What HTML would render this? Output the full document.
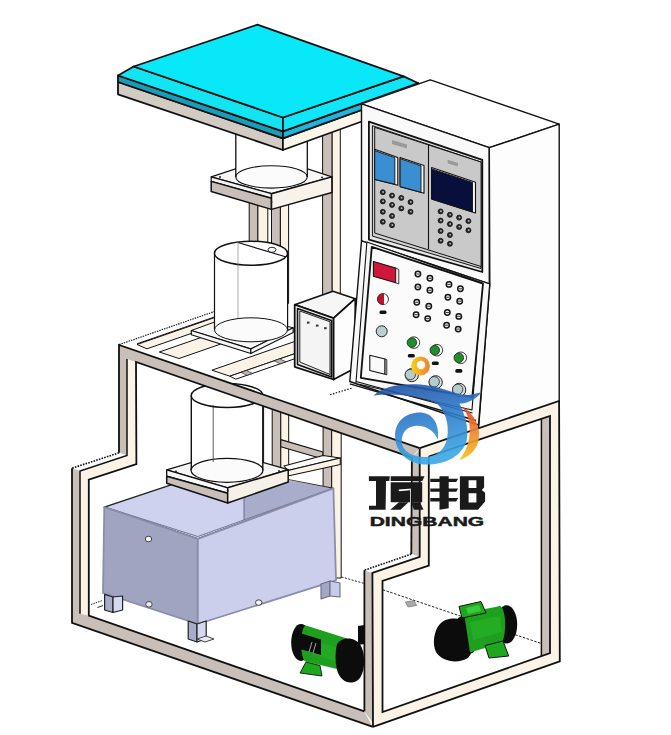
<!DOCTYPE html>
<html><head><meta charset="utf-8"><style>
html,body{margin:0;padding:0;background:#fff;width:671px;height:735px;overflow:hidden}
svg{display:block}
</style></head><body>
<svg width="671" height="735" viewBox="0 0 671 735" stroke-linejoin="round">
<polygon points="322.6,120 332.2,120 332.2,300 322.6,300" fill="#c8c0b8" stroke="#111" stroke-width="1" />
<polygon points="332.2,120 340.3,120 340.3,300 332.2,300" fill="#fbf3e6" stroke="#111" stroke-width="1" />
<polygon points="249.2,190 257.9,190 257.9,320 249.2,320" fill="#c8c0b8" stroke="#111" stroke-width="1" />
<polygon points="257.9,190 267.8,190 267.8,320 257.9,320" fill="#fbf3e6" stroke="#111" stroke-width="1" />
<polygon points="271.5,190 280.4,190 280.4,320 271.5,320" fill="#c8c0b8" stroke="#111" stroke-width="1" />
<polygon points="280.4,190 288.6,190 288.6,320 280.4,320" fill="#fbf3e6" stroke="#111" stroke-width="1" />
<g stroke="#111" stroke-width="1">
<polygon points="119,344.5 215,317.5 362,290 417,447" fill="#fff" stroke="none" stroke-width="0" />
</g>
<line x1="119.1" y1="344.6" x2="262" y2="295" stroke="#111" stroke-width="1.1" stroke-dasharray="1.5,1"/>
<line x1="137" y1="343.8" x2="262" y2="300.5" stroke="#111" stroke-width="1" />
<polygon points="137,344.5 147,348.8 242,315.83500000000004 232,311.535" fill="#fbf3e6" stroke="#111" stroke-width="1" />
<polygon points="159.3,352 179,358.5 274,325.535 254.3,319.035" fill="#fbf3e6" stroke="#111" stroke-width="1" />
<polygon points="211.9,370.2 229.8,376.2 329.8,341.5 311.9,335.5" fill="#fbf3e6" stroke="#111" stroke-width="1" />
<polygon points="229.8,376.2 235.8,379.2 335.8,344.5 329.8,341.5" fill="#fafafa" stroke="#111" stroke-width="1" />
<polygon points="240.91111111111113,372.34444444444443 246.46666666666667,370.41666666666663 252.46666666666667,373.41666666666663 246.91111111111113,375.34444444444443" fill="#bdb6ae" stroke="#111" stroke-width="0.6" />
<polygon points="274.24444444444447,360.77777777777777 279.8,358.84999999999997 285.8,361.84999999999997 280.24444444444447,363.77777777777777" fill="#bdb6ae" stroke="#111" stroke-width="0.6" />
<polygon points="307.5777777777778,349.2111111111111 313.1333333333333,347.2833333333333 319.1333333333333,350.2833333333333 313.5777777777778,352.2111111111111" fill="#bdb6ae" stroke="#111" stroke-width="0.6" />
<polygon points="191.3,330.5 233.8,315 293.2,327.7 250.8,348.9" fill="#f7f7f7" stroke="#111" stroke-width="1" />
<polygon points="191.3,330.5 250.8,348.9 250.8,353.5 191.3,334.8" fill="#f6f6f6" stroke="#111" stroke-width="1.2" />
<polygon points="250.8,348.9 293.2,327.7 293.2,332.5 250.8,353.5" fill="#f8f8f8" stroke="#111" stroke-width="1.2" />
<path d="M214.5,253.3 L214.5,329.8 A36.5,12 0 0 0 287.6,329.8 L287.6,253.3 Z" fill="#fff" stroke="none"/>
<ellipse cx="251" cy="329.8" rx="36.5" ry="12" fill="#fbfbfb" stroke="#111" stroke-width="1"/>
<path d="M214.5,253.3 L214.5,329.8 M287.6,253.3 L287.6,329.8" stroke="#111" stroke-width="1.2"/>
<ellipse cx="251" cy="253.3" rx="36.5" ry="12" fill="#fff" stroke="#111" stroke-width="1.5"/>
<line x1="238" y1="242.5" x2="286.2" y2="257" stroke="#111" stroke-width="1.1" />
<line x1="238" y1="242.5" x2="238" y2="318" stroke="#777" stroke-width="0.6" />
<ellipse cx="272" cy="249.8" rx="4" ry="2.5" fill="#fff" stroke="#111" stroke-width="0.9"/>
<polygon points="211.2,176.9 271.5,157 331.9,176.9 271.5,193.7" fill="#f7f7f7" stroke="#111" stroke-width="1.2" />
<path d="M235.8,120 L235.8,176.9 A35.7,11.2 0 0 0 307.3,176.9 L307.3,120 Z" fill="#fff" stroke="none"/>
<ellipse cx="271.5" cy="176.9" rx="35.7" ry="11.2" fill="#fbfbfb" stroke="#111" stroke-width="1.1"/>
<path d="M235.8,120 L235.8,176.9 M307.3,120 L307.3,176.9" stroke="#111" stroke-width="1.3"/>
<polygon points="211.2,176.9 271.5,193.7 271.5,198.3 211.2,181.4" fill="#f2f2f2" stroke="#111" stroke-width="1.2" />
<polygon points="211.2,181.4 271.5,198.3 271.5,209.4 211.2,191.5" fill="#c8c0b8" stroke="#111" stroke-width="1.5" />
<polygon points="271.5,193.7 331.9,176.9 331.9,192.5 271.5,209.4" fill="#f8f3ea" stroke="#111" stroke-width="1.5" />
<circle cx="220" cy="177" r="1" fill="#222"/>
<circle cx="271.5" cy="202" r="1" fill="#222"/>
<circle cx="322" cy="177.5" r="1" fill="#222"/>
<polygon points="118,82 282.9,138.3 282.9,150 118,94.3" fill="#d2cbc3" stroke="#111" stroke-width="1.8" />
<polygon points="282.9,138.3 418.4,89.5 418.4,101 282.9,150" fill="#fbf4e9" stroke="#111" stroke-width="1.8" />
<polygon points="118,75.5 282.9,131.4 282.9,138.3 118,82" fill="#1a9cb8" stroke="#111" stroke-width="1.8" />
<polygon points="282.9,131.4 418.4,83.2 418.4,89.5 282.9,138.3" fill="#1fb6de" stroke="#111" stroke-width="1.8" />
<polygon points="118,75.5 133.7,66.5 282.9,117.5 282.9,131.4" fill="#12e4f2" stroke="#111" stroke-width="1.8" />
<polygon points="282.9,117.5 403.6,76.4 418.4,83.2 282.9,131.4" fill="#10e6f8" stroke="#111" stroke-width="1.8" />
<polygon points="133.7,66.5 257.4,24.7 403.6,76.4 282.9,117.5" fill="#08e8f8" stroke="#111" stroke-width="1.8" />
<polygon points="294.7,304.7 332.9,291.2 355.3,298.7 333.6,318.2" fill="#f6f6f6" stroke="#111" stroke-width="1.6" />
<polygon points="294.7,304.7 333.6,318.2 333.6,379.5 294.7,366.8" fill="#f8f8f8" stroke="#111" stroke-width="1.8" />
<polygon points="333.6,318.2 355.3,298.7 355.3,368 333.6,379.5" fill="#fdfdfd" stroke="#111" stroke-width="1.8" />
<polygon points="297.5,308.5 331.5,320.5 331.5,377 297.5,364.5" fill="#e8e8e8" stroke="#111" stroke-width="1.6" />
<polygon points="299.8,311 330,321.8 330,374.5 299.8,362" fill="#f4f4f4" stroke="#111" stroke-width="0.9" />
<rect x="306.9" y="321.6" width="2.6" height="2" fill="#333"/>
<rect x="315.9" y="324.6" width="2.6" height="2" fill="#333"/>
<rect x="324.09999999999997" y="327.2" width="2.6" height="2" fill="#333"/>
<polygon points="361.5,103.8 430.3,79.8 559.2,124.1 489.3,147.7" fill="#ffffff" stroke="#111" stroke-width="1.4" />
<polygon points="361.5,103.8 489.3,147.7 489.3,284 361.5,240.8" fill="#f9f9f9" stroke="#111" stroke-width="1.4" />
<polygon points="489.3,147.7 559.2,124.1 559.2,402.6 478.5,429 489.8,283.8" fill="#fdfdfd" stroke="#111" stroke-width="1.4" />
<polygon points="368.9,121.6 482.3,159.8 482.3,272 368.9,239.6" fill="#e6e6e6" stroke="#111" stroke-width="1.8" />
<polygon points="372.4,125.7 481,162 481,268.5 372.4,236.1" fill="#d0d0d0" stroke="#111" stroke-width="1.0" />
<polygon points="374.7,127.4 481.1,162.1 481.1,266.5 374.7,233" fill="#c9c9c9" stroke="#111" stroke-width="1.0" />
<line x1="428.5" y1="144.9" x2="428.5" y2="249.1" stroke="#111" stroke-width="1.1" />
<polygon points="392,140 407,144.5 407,148.5 392,144" fill="#9a9a9a" stroke="none" stroke-width="0" />
<polygon points="447.6,159.8 458,163 458,166.5 447.6,163.3" fill="#9a9a9a" stroke="none" stroke-width="0" />
<polygon points="374.7,149.3 397.8,157.4 397.8,185.2 374.7,179.4" fill="#f4f4f4" stroke="#111" stroke-width="1.1" />
<polygon points="374.7,150.60000000000002 394.8,157.64805194805197 394.8,184.14805194805194 374.7,179.4" fill="#3a8fd2" stroke="#111" stroke-width="0.9" />
<polygon points="400.1,157.4 424,165.5 424,193.3 400.1,186.6" fill="#f4f4f4" stroke="#111" stroke-width="1.1" />
<polygon points="400.1,158.70000000000002 421,165.78326359832636 421,192.28326359832636 400.1,186.6" fill="#3a8fd2" stroke="#111" stroke-width="0.9" />
<polygon points="431.6,167.6 475.5,182.2 475.5,213 431.6,199.1" fill="#f4f4f4" stroke="#111" stroke-width="1.1" />
<polygon points="431.6,168.9 472.5,182.50227790432803 472.5,212.00227790432803 431.6,199.1" fill="#070f3a" stroke="#111" stroke-width="0.9" />
<circle cx="382.8" cy="192.2" r="2.5" fill="#2a2a2a" stroke="#111" stroke-width="0.8"/>
<circle cx="383.1" cy="192.0" r="0.9" fill="#bbb"/>
<circle cx="392" cy="195.6" r="2.5" fill="#2a2a2a" stroke="#111" stroke-width="0.8"/>
<circle cx="392.3" cy="195.4" r="0.9" fill="#bbb"/>
<circle cx="401.3" cy="197.9" r="2.5" fill="#2a2a2a" stroke="#111" stroke-width="0.8"/>
<circle cx="401.6" cy="197.70000000000002" r="0.9" fill="#bbb"/>
<circle cx="410.5" cy="202.1" r="2.5" fill="#2a2a2a" stroke="#111" stroke-width="0.8"/>
<circle cx="410.8" cy="201.9" r="0.9" fill="#bbb"/>
<circle cx="382.8" cy="201.4" r="2.5" fill="#2a2a2a" stroke="#111" stroke-width="0.8"/>
<circle cx="383.1" cy="201.20000000000002" r="0.9" fill="#bbb"/>
<circle cx="392" cy="204.9" r="2.5" fill="#2a2a2a" stroke="#111" stroke-width="0.8"/>
<circle cx="392.3" cy="204.70000000000002" r="0.9" fill="#bbb"/>
<circle cx="401.3" cy="208.4" r="2.5" fill="#2a2a2a" stroke="#111" stroke-width="0.8"/>
<circle cx="401.6" cy="208.20000000000002" r="0.9" fill="#bbb"/>
<circle cx="410.5" cy="211.8" r="2.5" fill="#2a2a2a" stroke="#111" stroke-width="0.8"/>
<circle cx="410.8" cy="211.60000000000002" r="0.9" fill="#bbb"/>
<circle cx="382.8" cy="211.8" r="2.5" fill="#2a2a2a" stroke="#111" stroke-width="0.8"/>
<circle cx="383.1" cy="211.60000000000002" r="0.9" fill="#bbb"/>
<circle cx="392" cy="216" r="2.5" fill="#2a2a2a" stroke="#111" stroke-width="0.8"/>
<circle cx="392.3" cy="215.8" r="0.9" fill="#bbb"/>
<circle cx="382.8" cy="221.8" r="2.5" fill="#2a2a2a" stroke="#111" stroke-width="0.8"/>
<circle cx="383.1" cy="221.60000000000002" r="0.9" fill="#bbb"/>
<circle cx="392" cy="225.2" r="2.5" fill="#2a2a2a" stroke="#111" stroke-width="0.8"/>
<circle cx="392.3" cy="225.0" r="0.9" fill="#bbb"/>
<circle cx="440.6" cy="211.4" r="2.5" fill="#2a2a2a" stroke="#111" stroke-width="0.8"/>
<circle cx="440.90000000000003" cy="211.20000000000002" r="0.9" fill="#bbb"/>
<circle cx="449.9" cy="214.8" r="2.5" fill="#2a2a2a" stroke="#111" stroke-width="0.8"/>
<circle cx="450.2" cy="214.60000000000002" r="0.9" fill="#bbb"/>
<circle cx="459.1" cy="217.6" r="2.5" fill="#2a2a2a" stroke="#111" stroke-width="0.8"/>
<circle cx="459.40000000000003" cy="217.4" r="0.9" fill="#bbb"/>
<circle cx="468.4" cy="221.1" r="2.5" fill="#2a2a2a" stroke="#111" stroke-width="0.8"/>
<circle cx="468.7" cy="220.9" r="0.9" fill="#bbb"/>
<circle cx="440.6" cy="220.6" r="2.5" fill="#2a2a2a" stroke="#111" stroke-width="0.8"/>
<circle cx="440.90000000000003" cy="220.4" r="0.9" fill="#bbb"/>
<circle cx="449.9" cy="224.1" r="2.5" fill="#2a2a2a" stroke="#111" stroke-width="0.8"/>
<circle cx="450.2" cy="223.9" r="0.9" fill="#bbb"/>
<circle cx="459.1" cy="226.9" r="2.5" fill="#2a2a2a" stroke="#111" stroke-width="0.8"/>
<circle cx="459.40000000000003" cy="226.70000000000002" r="0.9" fill="#bbb"/>
<circle cx="468.4" cy="230.3" r="2.5" fill="#2a2a2a" stroke="#111" stroke-width="0.8"/>
<circle cx="468.7" cy="230.10000000000002" r="0.9" fill="#bbb"/>
<circle cx="440.6" cy="231" r="2.5" fill="#2a2a2a" stroke="#111" stroke-width="0.8"/>
<circle cx="440.90000000000003" cy="230.8" r="0.9" fill="#bbb"/>
<circle cx="449.9" cy="235" r="2.5" fill="#2a2a2a" stroke="#111" stroke-width="0.8"/>
<circle cx="450.2" cy="234.8" r="0.9" fill="#bbb"/>
<circle cx="440.6" cy="240.8" r="2.5" fill="#2a2a2a" stroke="#111" stroke-width="0.8"/>
<circle cx="440.90000000000003" cy="240.60000000000002" r="0.9" fill="#bbb"/>
<circle cx="449.9" cy="243.8" r="2.5" fill="#2a2a2a" stroke="#111" stroke-width="0.8"/>
<circle cx="450.2" cy="243.60000000000002" r="0.9" fill="#bbb"/>
<polygon points="361.5,240.8 489.8,283.8 478.5,425 349.8,381.5" fill="#f9f9f9" stroke="#111" stroke-width="1.4" />
<polygon points="366.9,242 482,282.7 472,410 355.9,383.5" fill="#f7f7f7" stroke="#111" stroke-width="1.1" />
<polygon points="371.8,246.9 483,283.6 472.3,397 360.8,377.8" fill="#fbfbfb" stroke="#111" stroke-width="1.8" />
<line x1="349.8" y1="383.9" x2="476" y2="420.5" stroke="#111" stroke-width="1.4" />
<line x1="356" y1="381.5" x2="472.5" y2="413" stroke="#111" stroke-width="1.2" />
<line x1="330" y1="394.7" x2="351.5" y2="388.2" stroke="#111" stroke-width="1.2" stroke-dasharray="1.5,1.5"/>
<polygon points="373.4,261.5 395.7,268 395.7,282.8 373.4,276.3" fill="#d0163a" stroke="#111" stroke-width="1.1" />
<polygon points="395.7,268 398.8,269.5 398.8,284 395.7,282.8" fill="#eee" stroke="#111" stroke-width="0.8" />
<circle cx="382.9" cy="299.1" r="5.5" fill="#c0102a" stroke="#222" stroke-width="0.9"/>
<path d="M384,294 a5.5,5.5 0 0 1 0,10.5" fill="#fff" stroke="none"/>
<rect x="379.5" y="310.5" width="7" height="3.5" rx="1.5" fill="#111"/>
<circle cx="381.7" cy="331.3" r="5.5" fill="#b8cfcf" stroke="#222" stroke-width="1"/>
<polygon points="369.8,355.2 385,359 385,374.3 369.8,370.5" fill="#fafafa" stroke="#111" stroke-width="1.1" />
<polygon points="385,359 386.8,359.6 386.8,375 385,374.3" fill="#bbb" stroke="#111" stroke-width="0.8" />
<circle cx="417.9" cy="274" r="2.7" fill="#f0f0f0" stroke="#151515" stroke-width="1.5"/>
<rect x="416.29999999999995" y="273.5" width="3.2" height="1" fill="#333"/>
<circle cx="429.9" cy="278.3" r="2.7" fill="#f0f0f0" stroke="#151515" stroke-width="1.5"/>
<rect x="428.29999999999995" y="277.8" width="3.2" height="1" fill="#333"/>
<circle cx="417.9" cy="287" r="2.7" fill="#f0f0f0" stroke="#151515" stroke-width="1.5"/>
<rect x="416.29999999999995" y="286.5" width="3.2" height="1" fill="#333"/>
<circle cx="429.9" cy="290.3" r="2.7" fill="#f0f0f0" stroke="#151515" stroke-width="1.5"/>
<rect x="428.29999999999995" y="289.8" width="3.2" height="1" fill="#333"/>
<circle cx="416.8" cy="302.3" r="2.7" fill="#f0f0f0" stroke="#151515" stroke-width="1.5"/>
<rect x="415.2" y="301.8" width="3.2" height="1" fill="#333"/>
<circle cx="428.8" cy="306.2" r="2.7" fill="#f0f0f0" stroke="#151515" stroke-width="1.5"/>
<rect x="427.2" y="305.7" width="3.2" height="1" fill="#333"/>
<circle cx="416.1" cy="314.7" r="2.7" fill="#f0f0f0" stroke="#151515" stroke-width="1.5"/>
<rect x="414.5" y="314.2" width="3.2" height="1" fill="#333"/>
<circle cx="427.7" cy="318.6" r="2.7" fill="#f0f0f0" stroke="#151515" stroke-width="1.5"/>
<rect x="426.09999999999997" y="318.1" width="3.2" height="1" fill="#333"/>
<circle cx="449" cy="284.4" r="2.7" fill="#f0f0f0" stroke="#151515" stroke-width="1.5"/>
<rect x="447.4" y="283.9" width="3.2" height="1" fill="#333"/>
<circle cx="460.4" cy="288.8" r="2.7" fill="#f0f0f0" stroke="#151515" stroke-width="1.5"/>
<rect x="458.79999999999995" y="288.3" width="3.2" height="1" fill="#333"/>
<circle cx="447.9" cy="297.3" r="2.7" fill="#f0f0f0" stroke="#151515" stroke-width="1.5"/>
<rect x="446.29999999999995" y="296.8" width="3.2" height="1" fill="#333"/>
<circle cx="459.7" cy="301.2" r="2.7" fill="#f0f0f0" stroke="#151515" stroke-width="1.5"/>
<rect x="458.09999999999997" y="300.7" width="3.2" height="1" fill="#333"/>
<circle cx="447.3" cy="312.5" r="2.7" fill="#f0f0f0" stroke="#151515" stroke-width="1.5"/>
<rect x="445.7" y="312.0" width="3.2" height="1" fill="#333"/>
<circle cx="458.8" cy="316.4" r="2.7" fill="#f0f0f0" stroke="#151515" stroke-width="1.5"/>
<rect x="457.2" y="315.9" width="3.2" height="1" fill="#333"/>
<circle cx="446.6" cy="325.2" r="2.7" fill="#f0f0f0" stroke="#151515" stroke-width="1.5"/>
<rect x="445.0" y="324.7" width="3.2" height="1" fill="#333"/>
<circle cx="458.2" cy="329.1" r="2.7" fill="#f0f0f0" stroke="#151515" stroke-width="1.5"/>
<rect x="456.59999999999997" y="328.6" width="3.2" height="1" fill="#333"/>
<circle cx="413.9" cy="342.6" r="5.8" fill="#fff" stroke="#222" stroke-width="0.9"/>
<circle cx="411.9" cy="342.6" r="4.8" fill="#1f8f2a" stroke="#222" stroke-width="0.8"/>
<circle cx="436.8" cy="350.2" r="5.8" fill="#fff" stroke="#222" stroke-width="0.9"/>
<circle cx="434.8" cy="350.2" r="4.8" fill="#1f8f2a" stroke="#222" stroke-width="0.8"/>
<circle cx="460.8" cy="357.8" r="5.8" fill="#fff" stroke="#222" stroke-width="0.9"/>
<circle cx="458.8" cy="357.8" r="4.8" fill="#1f8f2a" stroke="#222" stroke-width="0.8"/>
<rect x="407.8" y="353.9" width="7" height="3.6" rx="1.5" fill="#111"/>
<rect x="431.8" y="361.5" width="7" height="3.6" rx="1.5" fill="#111"/>
<rect x="455.3" y="369.09999999999997" width="7" height="3.6" rx="1.5" fill="#111"/>
<circle cx="411.8" cy="375.1" r="6.6" fill="#ddd" stroke="#222" stroke-width="1"/>
<circle cx="410.3" cy="374.6" r="5.2" fill="#b4cccc" stroke="#222" stroke-width="0.8"/>
<circle cx="435.7" cy="382.3" r="6.6" fill="#ddd" stroke="#222" stroke-width="1"/>
<circle cx="434.2" cy="381.8" r="5.2" fill="#b4cccc" stroke="#222" stroke-width="0.8"/>
<circle cx="459.2" cy="389.9" r="6.6" fill="#ddd" stroke="#222" stroke-width="1"/>
<circle cx="457.7" cy="389.4" r="5.2" fill="#b4cccc" stroke="#222" stroke-width="0.8"/>
<polygon points="272.2,405 280.8,405 280.8,470 272.2,470" fill="#c8c0b8" stroke="#111" stroke-width="1" />
<polygon points="280.8,405 288.7,405 288.7,470 280.8,470" fill="#fbf3e6" stroke="#111" stroke-width="1" />
<polygon points="259.7,395 263.6,395 263.6,465 259.7,465" fill="#fff" stroke="#111" stroke-width="1" />
<polygon points="280.8,439.6 323,452 323,459 280.8,446.7" fill="#c8c0b8" stroke="#111" stroke-width="1.1" />
<polygon points="323.1,425 331.7,425 331.7,578 323.1,578" fill="#c8c0b8" stroke="#111" stroke-width="1" />
<polygon points="331.7,425 341.2,425 341.2,578 331.7,578" fill="#fbf3e6" stroke="#111" stroke-width="1" />
<polygon points="284,466 323.1,455.5 340.3,458 287.9,470.5" fill="#fafafa" stroke="#111" stroke-width="1.1" />
<polygon points="287.9,470.5 340.3,458 340.3,464.5 287.9,476" fill="#fbf3e6" stroke="#111" stroke-width="1.1" />
<line x1="341.5" y1="577" x2="364.4" y2="583.5" stroke="#222" stroke-width="1" stroke-dasharray="2,1.5"/>
<polygon points="104.3,507.1 223.5,467.4 333.4,488.4 197.8,539" fill="#ced2ee" stroke="#222" stroke-width="1.5" />
<polygon points="244,496 285,479.1 331,488.2 244,520" fill="#a9adcc" stroke="none" stroke-width="0" />
<line x1="244" y1="496" x2="244" y2="520" stroke="#6a6d85" stroke-width="1" />
<polyline points="109,508.3 197.8,536.5 329,489.5" fill="none" stroke="#6a6d85" stroke-width="0.9"/>
<polygon points="104.3,507.1 197.8,539 197.8,624 103,592.8" fill="#a0a4c0" stroke="#8a8ea8" stroke-width="1.8" />
<polygon points="197.8,539 333.4,488.4 336,580.3 197.8,624" fill="#cbcfeb" stroke="#8a8ea8" stroke-width="1.8" />
<line x1="91" y1="604.5" x2="102.5" y2="600.5" stroke="#222" stroke-width="1" stroke-dasharray="1.5,1"/>
<line x1="97.5" y1="607.5" x2="103" y2="605.5" stroke="#222" stroke-width="1" />
<polygon points="104.6,594.4 113,597 113,612.5 104.6,610" fill="#a8acc8" stroke="#222" stroke-width="1.2" />
<polygon points="113,597 122.6,596 122.6,610 113,612.5" fill="#d4d8f0" stroke="#222" stroke-width="1.2" />
<polygon points="188.2,621 197,624 197,642 188.2,639" fill="#a8acc8" stroke="#222" stroke-width="1.2" />
<polygon points="197,624 206.2,621 206.2,639 197,642" fill="#d4d8f0" stroke="#222" stroke-width="1.2" />
<polygon points="197,639 206,636 214,639 205,642" fill="#e8e8f0" stroke="#333" stroke-width="0.9" />
<polygon points="321,584 330,581 330,596 321,599" fill="#a3a7c6" stroke="#6a6d85" stroke-width="1.1" />
<polygon points="330,581 340,583 340,597 330,596" fill="#c7cbe8" stroke="#6a6d85" stroke-width="1.1" />
<ellipse cx="148.5" cy="539" rx="3.2" ry="2.8" fill="#f4f4f4" stroke="#444" stroke-width="1"/>
<ellipse cx="148.9" cy="604.3" rx="3.2" ry="2.8" fill="#f4f4f4" stroke="#444" stroke-width="1"/>
<ellipse cx="258.7" cy="602.6" rx="3.2" ry="2.8" fill="#f4f4f4" stroke="#444" stroke-width="1"/>
<polygon points="166.7,469.9 227,452 288.2,469.7 227.7,487.8" fill="#f6f6f6" stroke="#111" stroke-width="1.3" />
<path d="M191.3,395.5 L191.3,470.3 A36,12 0 0 0 262.8,470.3 L262.8,395.5 Z" fill="#fff" stroke="none"/>
<ellipse cx="227" cy="395.5" rx="35.8" ry="12" fill="#fff" stroke="#111" stroke-width="1.4"/>
<ellipse cx="227" cy="470.3" rx="36" ry="12" fill="#fbfbfb" stroke="#111" stroke-width="1.2"/>
<path d="M191.3,395.5 L191.3,470.3 M262.8,395.5 L262.8,470.3" stroke="#111" stroke-width="1.4"/>
<line x1="213.2" y1="405" x2="213.2" y2="462" stroke="#333" stroke-width="0.8" />
<polygon points="166.7,469.9 227.7,487.8 227.7,493.2 166.7,476.2" fill="#f8f8f8" stroke="#111" stroke-width="1.3" />
<polygon points="166.7,476.2 227.7,493.2 227.7,503 166.7,483.3" fill="#c8c0b8" stroke="#111" stroke-width="1.5" />
<polygon points="227.7,487.8 288.2,469.7 288.2,482 227.7,503" fill="#f6f1e8" stroke="#111" stroke-width="1.5" />
<circle cx="176" cy="471.5" r="1" fill="#222"/>
<circle cx="227.7" cy="490.5" r="1" fill="#222"/>
<circle cx="279" cy="471" r="1" fill="#222"/>
<polygon points="127,359 136,362 136.4,464.2 88.8,479.6 88.8,615.7 80,613.8 80,471 126.4,455.5" fill="#fbf3e6" stroke="none" stroke-width="0" />
<polygon points="119,345 419.7,448.2 411.9,457.6 136,362 127,359 127,455.5 119,452.8" fill="#c8c0b8" stroke="none" stroke-width="0" />
<polygon points="72,468.2 119,452.8 126.4,455.5 80,471" fill="#fbfbfb" stroke="none" stroke-width="0" />
<polygon points="72,468.2 80,471 80,613.8 72,622.8" fill="#c8c0b8" stroke="none" stroke-width="0" />
<polygon points="72,622.8 80,613.8 88.8,615.7 364.4,711.4 373,726.9" fill="#c8c0b8" stroke="none" stroke-width="0" />
<polyline points="119,452.8 119,345 419.7,448.2" fill="none" stroke="#111" stroke-width="1.8" stroke-linejoin="miter" />
<polyline points="119,452.8 72,468.2" fill="none" stroke="#111" stroke-width="1.6" stroke-linejoin="miter" stroke-dasharray="1.6,1.2"/>
<polyline points="72,468.2 72,622.8 373,726.9" fill="none" stroke="#111" stroke-width="1.8" stroke-linejoin="miter" />
<polyline points="411.9,457.6 136,362 136.4,464.2 88.8,479.6 88.8,615.7 364.4,711.4" fill="none" stroke="#111" stroke-width="1.8" stroke-linejoin="miter" />
<polyline points="127,359 127,455.5 80,471 80,613.8" fill="none" stroke="#111" stroke-width="1.5" stroke-linejoin="miter" />
<polygon points="419.7,448.2 559.1,401 559.8,661.3 373,726.9 364.4,711.4 364.4,570.2 411.3,554.1 411.9,457.6" fill="#fbf3e6" stroke="none" stroke-width="0" />
<polygon points="411.9,457.6 419.7,450 419.7,556.8 411.3,554.1" fill="#c8c0b8" stroke="none" stroke-width="0" />
<polygon points="364.4,570.2 372.4,572.9 372.4,722 364.4,711.4" fill="#c8c0b8" stroke="none" stroke-width="0" />
<polygon points="364.4,570.2 411.3,554.1 419.7,556.8 372.4,572.9" fill="#fbfbfb" stroke="none" stroke-width="0" />
<polygon points="428.8,456.5 550,415.9 550,653.1 382.5,712.1 382.5,581 428.8,565.5" fill="#fff" stroke="none" stroke-width="0" />
<polygon points="541.4,418.6 550,415.9 550,653.1 541.4,656" fill="#c8c0b8" stroke="none" stroke-width="0" />
<polyline points="419.7,448.2 559.1,401 559.8,661.3 373,726.9" fill="none" stroke="#111" stroke-width="1.8" stroke-linejoin="miter" />
<polyline points="428.8,456.5 550,415.9 550,653.1 382.5,712.1 382.5,581 428.8,565.5 428.8,456.5" fill="none" stroke="#111" stroke-width="1.8" stroke-linejoin="miter" />
<polyline points="541.4,418.6 541.4,656" fill="none" stroke="#111" stroke-width="1.5" stroke-linejoin="miter" />
<polyline points="419.7,448.2 419.7,556.8 372.4,572.9 373,726.9" fill="none" stroke="#111" stroke-width="1.8" stroke-linejoin="miter" />
<polyline points="411.9,457.6 411.3,554.1" fill="none" stroke="#111" stroke-width="1.8" stroke-linejoin="miter" />
<polyline points="411.3,554.1 364.4,570.2" fill="none" stroke="#111" stroke-width="1.6" stroke-linejoin="miter" stroke-dasharray="1.6,1.2"/>
<polyline points="364.4,570.2 364.4,711.4" fill="none" stroke="#111" stroke-width="1.8" stroke-linejoin="miter" />
<ellipse cx="301" cy="642.5" rx="9.8" ry="18.5" fill="#0c0c0c"/>
<path d="M306,625.5 L347,638.5 L345,671 L306,661.5 A5,18 0 0 1 306,625.5 Z" fill="#1ea01e"/>
<path d="M310,640 L340,648 L339,662 L311,654 Z" fill="#28b428" opacity="0.5"/>
<polygon points="300,633 321,639.5 321,655 300,649" fill="#0c0c0c" stroke="none" stroke-width="0" />
<line x1="312" y1="642" x2="309" y2="652" stroke="#ccc" stroke-width="0.8" />
<line x1="316" y1="643" x2="313" y2="653" stroke="#ccc" stroke-width="0.8" />
<polygon points="306,662 320,665.5 322,676 300,673" fill="#1ea81e" stroke="#111" stroke-width="0.9" />
<path d="M337,644 C343,636 356,637 361,646 C366,656 365,674 358,680 C350,686 340,681 337,670 C335,662 335,652 337,644 Z" fill="#0c0c0c"/>
<polygon points="358,626 364.5,625 364.5,644 358,645" fill="#0c0c0c" stroke="none" stroke-width="0" />
<line x1="382.7" y1="589.7" x2="541.3" y2="643.5" stroke="#222" stroke-width="1" stroke-dasharray="2.5,1.5"/>
<polygon points="405.4,602 414,600.5 416.7,605.5 408,607" fill="#aaa" stroke="#666" stroke-width="0.6" />
<path d="M440,624 C446,617 460,617 468,622 C474,630 476,650 468,658 C458,664 442,662 436,652 C432,644 434,630 440,624 Z" fill="#0c0c0c"/>
<polygon points="458,618 470,612 474,652 462,658" fill="#0c0c0c" stroke="none" stroke-width="0" />
<ellipse cx="506.6" cy="624.4" rx="10.6" ry="19.1" fill="#0c0c0c"/>
<path d="M464,613 L498,606.5 A5.5,18.3 0 0 1 501,643.2 L470,652.5 Z" fill="#1ea01e"/>
<path d="M470,622 L500,616 L502,632 L473,640 Z" fill="#28b428" opacity="0.6"/>
<polygon points="459,606.5 481,601.5 486,613 462,618" fill="#1ea81e" stroke="#111" stroke-width="1" />
<polygon points="466,608 479,605 481,611 468,614" fill="#3cc83c" stroke="none" stroke-width="0" />
<polygon points="485,645.5 503,641 508.7,656 489,658" fill="#1ea81e" stroke="#111" stroke-width="1" />
<defs><linearGradient id="gb" x1="0" y1="0" x2="0.3" y2="1"><stop offset="0" stop-color="#1f4f9c"/><stop offset="0.35" stop-color="#2a6cbf"/><stop offset="1" stop-color="#3aa6e6"/></linearGradient><linearGradient id="go" x1="0" y1="0" x2="0" y2="1"><stop offset="0" stop-color="#e2402a"/><stop offset="0.5" stop-color="#f08a2c"/><stop offset="1" stop-color="#f6c21c"/></linearGradient><linearGradient id="gr" x1="0" y1="0" x2="1" y2="0"><stop offset="0" stop-color="#f8d21a"/><stop offset="1" stop-color="#ef8030"/></linearGradient></defs>
<g transform="translate(370 375) scale(0.17883)">
<path d="M20,115 C80,60 200,40 330,60 C430,75 500,120 560,110 C590,105 610,100 625,95 C590,140 540,160 500,160 C530,220 555,300 540,370 C510,460 410,505 300,500 C200,495 140,420 140,340 C140,260 200,210 280,210 C340,210 390,260 380,360 C350,300 300,280 250,285 C195,290 170,340 180,390 C195,440 260,462 320,458 C390,450 432,400 435,320 C437,245 410,185 360,150 C260,118 130,100 20,115 Z" fill="url(#gb)" fill-opacity="0.9"/>
<path d="M515,178 C585,215 625,300 605,375 C585,435 545,462 500,475 C540,420 558,370 558,310 C558,255 545,215 515,178 Z" fill="url(#go)" fill-opacity="0.92"/>
</g>
<circle cx="420.5" cy="366" r="9.4" fill="url(#gr)"/>
<circle cx="421" cy="365" r="4.2" fill="#fff"/>
<g fill="#1a1a1a" stroke="none">
<polygon points="368.9,476.3 389.8,476.3 389.3,480.9 368.9,480.9"/>
<polygon points="376,480.9 386,480.9 385.6,509.7 369,509.7 369,505.8 376,505.8"/>
<polygon points="390.7,476.3 424.5,476.3 422.3,480.9 390.7,480.9"/>
<path d="M390.7,482.3 H422.2 V502.3 H390.7 Z M398.8,491.3 L410,490.3 V502.3 H412 V488.6 L398.8,489.6 Z" fill-rule="evenodd"/>
<polygon points="399,502.3 408.5,502.3 400.5,509.7 390.2,509.7"/>
<polygon points="411,502.3 420,502.3 423.5,509.7 414,509.7"/>
<polygon points="430.3,478.7 458.2,478.7 456.2,482.1 430.3,482.1"/>
<polygon points="430.3,488.4 458.2,488.4 456.2,491.8 430.3,491.8"/>
<polygon points="430.3,498.1 458.2,498.1 456.2,501.5 430.3,501.5"/>
<polygon points="439.5,476.3 448.7,476.3 448.7,508.3 439.5,509.7"/>
<path d="M459.9,476.3 H484.1 V487.5 L481.8,490 L485.1,492.8 V501.5 L478,509.7 H459.9 Z M468.6,480.2 V487.9 H476.4 V480.2 Z M468.6,493.3 V502.5 H476.4 V493.3 Z" fill-rule="evenodd"/>
</g>
<text x="369.7" y="525.8" font-family="Liberation Sans" font-weight="bold" font-size="13.4" fill="#1a1a1a" stroke="#1a1a1a" stroke-width="0.45" textLength="114.5" lengthAdjust="spacingAndGlyphs">DINGBANG</text>
</svg>
</body></html>
